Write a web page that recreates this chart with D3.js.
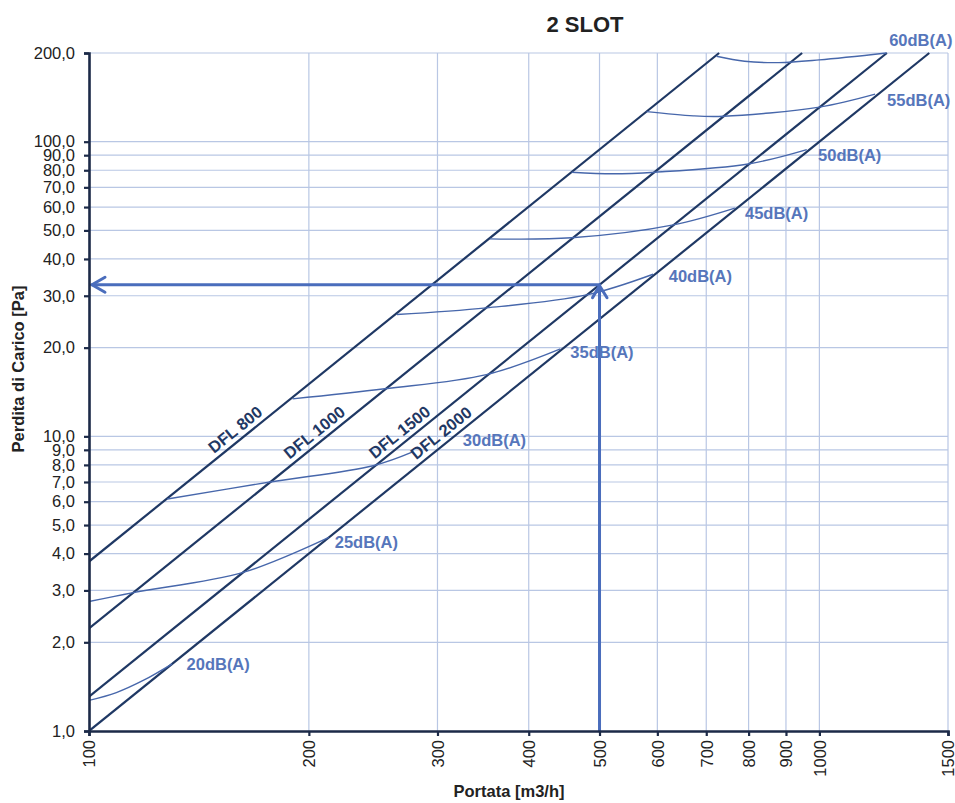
<!DOCTYPE html>
<html>
<head>
<meta charset="utf-8">
<script src="https://cdn.jsdelivr.net/npm/d3@7"></script>
<style>
  html, body { margin: 0; padding: 0; background: #fff; }
  svg { display: block; font-family: "Liberation Sans", Arial, sans-serif; }
</style>
</head>
<body>
<svg id="chart" width="955" height="803"></svg>
<script>
// ---------- data ----------
const chartTitle = "2 SLOT";
const xTitle = "Portata [m3/h]";
const yTitle = "Perdita di Carico [Pa]";

const flowTicks = [100, 200, 300, 400, 500, 600, 700, 800, 900, 1000, 1500];
const pressureTicks = [1, 2, 3, 4, 5, 6, 7, 8, 9, 10, 20, 30, 40, 50, 60, 70, 80, 90, 100, 200];

// DFL diffuser lines (start / end points)
const dflNames = ["DFL 800", "DFL 1000", "DFL 1500", "DFL 2000"];
const dflFlow = [[100, 729], [100, 947], [100, 1237], [100, 1414]];
const dflPressure = [[3.76, 200], [2.23, 200], [1.307, 200], [1.0, 200]];
const dflLabelFlow = [162, 208, 272, 310];

// Noise curves
const dbNames = ["20dB(A)", "25dB(A)", "30dB(A)", "35dB(A)", "40dB(A)", "45dB(A)", "50dB(A)", "55dB(A)", "60dB(A)"];
const dbFlow = [
  [100, 109, 119, 130],
  [100, 115, 163, 213],
  [128, 177, 245, 278],
  [190, 254, 350, 442],
  [264, 350, 480, 592],
  [354, 458, 631, 766],
  [458, 522, 596, 799, 961],
  [580, 672, 739, 1000, 1192],
  [723, 790, 880, 1000, 1236]
];
const dbPressure = [
  [1.27, 1.35, 1.49, 1.69],
  [2.75, 2.95, 3.46, 4.54],
  [6.13, 7.0, 7.95, 8.87],
  [13.4, 14.5, 16.2, 19.8],
  [25.9, 27.3, 30.2, 35.5],
  [46.8, 47.2, 52.2, 59.5],
  [78.8, 77.8, 78.8, 84, 94],
  [126.5, 122.4, 122, 131, 145],
  [195, 187.5, 185.5, 189.5, 200]
];
const dbLabelFlow = [136, 217, 325, 456, 622, 791, 996, 1238, 1246];
const dbLabelPressure = [1.69, 4.38, 9.72, 19.34, 35.04, 57.33, 90.2, 138.7, 221.6];

// Example reading
const selectedFlow = 500;
const selectedPressure = 32.7;

// ---------- layout ----------
const svg = d3.select("#chart");
const plot = { left: 89, right: 948, top: 53, bottom: 731 };

const x = d3.scaleLog().domain([100, 1500]).range([plot.left, plot.right]);
const y = d3.scaleLog().domain([1, 200]).range([plot.bottom, plot.top]);

const gridColor = "#b9c7e4";
const axisColor = "#1c2a48";
const dflColor = "#1f3864";
const dbColor = "#4767ab";
const labelBlue = "#5676bb";
const arrowColor = "#4a6dbc";
const fmt = d => d3.format(".1f")(d).replace(".", ",");

svg.append("defs").append("clipPath").attr("id", "plotclip")
  .append("rect").attr("x", plot.left).attr("y", plot.top - 1)
  .attr("width", plot.right - plot.left + 1).attr("height", plot.bottom - plot.top + 1);

// gridlines
const grid = svg.append("g");
grid.selectAll("line.h").data(pressureTicks.filter(d => d > 1)).join("line")
  .attr("x1", plot.left).attr("x2", plot.right)
  .attr("y1", d => y(d)).attr("y2", d => y(d))
  .attr("stroke", gridColor).attr("stroke-width", 1.2);
grid.selectAll("line.v").data(flowTicks.filter(d => d > 100)).join("line")
  .attr("y1", plot.top).attr("y2", plot.bottom)
  .attr("x1", d => x(d)).attr("x2", d => x(d))
  .attr("stroke", gridColor).attr("stroke-width", 1.2);

const content = svg.append("g").attr("clip-path", "url(#plotclip)");

// DFL lines
dflNames.forEach((name, i) => {
  const pts = dflFlow[i].map((q, j) => [q, dflPressure[i][j]]);
  content.append("path")
    .attr("d", d3.line().x(d => x(d[0])).y(d => y(d[1]))(pts))
    .attr("fill", "none").attr("stroke", dflColor).attr("stroke-width", 2.2);
});

// noise curves
const curveGen = d3.line().x(d => x(d[0])).y(d => y(d[1])).curve(d3.curveCatmullRom.alpha(0.5));
dbNames.forEach((name, i) => {
  const pts = dbFlow[i].map((q, j) => [q, dbPressure[i][j]]);
  content.append("path")
    .attr("d", curveGen(pts))
    .attr("fill", "none").attr("stroke", dbColor).attr("stroke-width", 1.4);
});

// example arrows
const ax = x(selectedFlow), ay = y(selectedPressure);
const arrows = svg.append("g").attr("stroke", arrowColor).attr("stroke-width", 3)
  .attr("fill", "none").attr("stroke-linecap", "round");
arrows.append("line").attr("x1", ax).attr("x2", ax).attr("y1", plot.bottom).attr("y2", ay + 1);
arrows.append("line").attr("x1", ax).attr("x2", x(100) + 3).attr("y1", ay).attr("y2", ay);
arrows.append("path").attr("d", `M${ax - 7},${ay + 13} L${ax},${ay + 1} L${ax + 7.5},${ay + 13}`);
arrows.append("path").attr("d", `M${x(100) + 16},${ay - 7.5} L${x(100) + 3},${ay} L${x(100) + 16},${ay + 7.5}`);

// axes
const yAxis = d3.axisLeft(y).tickValues(pressureTicks).tickFormat(fmt).tickSize(5).tickPadding(9);
const gy = svg.append("g").attr("transform", `translate(${plot.left},0)`).call(yAxis);
const xAxis = d3.axisBottom(x).tickValues(flowTicks).tickFormat(d3.format("d")).tickSize(5).tickPadding(8);
const gx = svg.append("g").attr("transform", `translate(0,${plot.bottom})`).call(xAxis);

[gx, gy].forEach(g => {
  g.select(".domain").attr("stroke", axisColor).attr("stroke-width", 2.6);
  g.selectAll(".tick line").attr("stroke", axisColor).attr("stroke-width", 2.2);
  g.selectAll(".tick text").attr("fill", "#222").style("font-size", "16.5px")
    .style("font-family", "'Liberation Sans', Arial, sans-serif");
});
gx.selectAll(".tick text")
  .attr("transform", "rotate(-90)")
  .attr("text-anchor", "end")
  .attr("x", -9).attr("y", 0).attr("dy", "0.35em");

// titles
svg.append("text").attr("x", 585).attr("y", 32).attr("text-anchor", "middle")
  .style("font-size", "22px").style("font-weight", "bold").attr("fill", "#222").text(chartTitle);
svg.append("text").attr("x", 509).attr("y", 797).attr("text-anchor", "middle")
  .style("font-size", "16.5px").style("font-weight", "bold").attr("fill", "#222").text(xTitle);
svg.append("text").attr("transform", `translate(24,${369}) rotate(-90)`).attr("text-anchor", "middle")
  .style("font-size", "16.5px").style("font-weight", "bold").attr("fill", "#222").text(yTitle);

// DFL labels along the lines
const angle = Math.atan2(y(1) - y(4), x(200) - x(100)) * 180 / Math.PI; // slope of a Q^2 line
dflNames.forEach((name, i) => {
  const q0 = dflFlow[i][0], q1 = dflFlow[i][1];
  const p0 = dflPressure[i][0], p1 = dflPressure[i][1];
  const q = dflLabelFlow[i];
  const t = Math.log(q / q0) / Math.log(q1 / q0);
  const p = Math.exp(Math.log(p0) + t * Math.log(p1 / p0));
  const px = x(q), py = y(p);
  const rad = angle * Math.PI / 180;
  const off = 11;
  const cx = px - off * Math.sin(rad), cy = py - off * Math.cos(rad);
  svg.append("text")
    .attr("transform", `translate(${cx},${cy}) rotate(${-angle})`)
    .attr("text-anchor", "middle").attr("dy", "0.35em")
    .style("font-size", "16.5px").style("font-weight", "bold").attr("fill", dflColor)
    .text(name);
});

// dB labels
dbNames.forEach((name, i) => {
  svg.append("text")
    .attr("x", x(dbLabelFlow[i])).attr("y", y(dbLabelPressure[i])).attr("dy", "0.35em")
    .style("font-size", "16.5px").style("font-weight", "bold").attr("fill", labelBlue)
    .text(name);
});
</script>
</body>
</html>
